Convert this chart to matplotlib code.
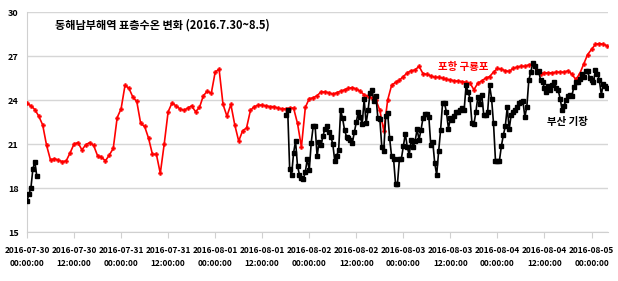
import numpy as np
import matplotlib
matplotlib.use("Agg")
import matplotlib.pyplot as plt

plt.rcParams['font.family'] = ['Noto Sans CJK KR', 'DejaVu Sans']

# 포항 구룡포 (시간별, 2016-07-30 00:00 부터)
red_vals = [
    23.77, 23.6, 23.35, 22.9, 22.3, 20.9, 19.9, 20.0, 19.9, 19.8,
    19.85, 20.4, 21.0, 21.1, 20.6, 20.95, 21.1, 20.9, 20.2, 20.1,
    19.85, 20.25, 20.7, 22.8, 23.4, 25.0, 24.8, 24.2, 23.9, 22.4,
    22.2, 21.4, 20.3, 20.3, 19.0, 21.0, 23.2, 23.8, 23.6, 23.4,
    23.3, 23.45, 23.6, 23.2, 23.5, 24.3, 24.6, 24.45, 25.9, 26.1,
    23.7, 22.9, 23.7, 22.3, 21.2, 21.9, 22.1, 23.3, 23.55, 23.65,
    23.65, 23.6, 23.55, 23.55, 23.45, 23.4, 23.4, 23.45, 23.45, 22.4,
    20.8, 23.5, 24.1, 24.15, 24.3, 24.55, 24.55, 24.5, 24.4, 24.5,
    24.6, 24.7, 24.8, 24.85, 24.75, 24.6, 24.35, 24.25, 24.15, 24.0,
    23.3, 21.9, 24.0, 25.0, 25.2, 25.35, 25.6, 25.85, 26.0, 26.05,
    26.3, 25.8, 25.75, 25.65, 25.55, 25.55, 25.5, 25.4, 25.38, 25.3,
    25.3, 25.25, 25.2, 25.15, 24.7, 25.15, 25.3, 25.5, 25.6, 25.9,
    26.15, 26.1, 26.0, 25.95, 26.15, 26.25, 26.3, 26.3, 26.4, 26.45,
    26.0, 25.8, 25.85, 25.85, 25.85, 25.9, 25.9, 25.9, 26.0, 25.75,
    25.4, 25.8, 26.45, 27.1, 27.45, 27.8, 27.85, 27.8, 27.7,
]

# 부산 기장 (30분 간격)
black_early = [17.1, 17.6, 18.0, 19.3, 19.8, 18.8]  # 07-30 00:00 부터
black_late_start = 66  # 08-01 18:00
black_late = [
    23.0, 23.3, 19.3, 18.9, 20.4, 21.2, 19.5, 18.9, 18.65, 18.6,
    19.1, 20.0, 19.2, 21.1, 22.2, 22.2, 20.15, 21.15, 20.9, 21.55,
    22.05, 22.2, 21.8, 21.5, 21.0, 19.85, 20.2, 20.6, 23.3, 22.75,
    21.95, 21.5, 21.4, 21.3, 21.1, 21.8, 22.5, 23.2, 22.85, 22.35,
    24.05, 22.4, 23.3, 24.45, 24.7, 23.9, 24.3, 22.75, 22.7, 20.8,
    20.55, 22.9, 23.1, 21.4, 20.15, 20.0, 18.3, 18.3, 20.0, 20.0,
    20.85, 21.7, 20.8, 20.25, 21.3, 20.8, 21.2, 22.0, 21.3, 21.95,
    22.75, 23.05, 23.05, 22.85, 20.9, 21.15, 19.7, 18.9, 20.5, 21.95,
    23.8, 23.8, 23.15, 22.05, 22.75, 22.65, 22.9, 23.15, 23.2, 23.35,
    23.45, 23.3, 25.0, 24.55, 24.1, 22.4, 22.35, 23.2, 24.2, 23.75,
    24.35, 23.0, 23.0, 23.2, 25.0, 24.1, 22.4, 19.85, 19.85, 19.85,
    20.85, 21.6, 22.2, 23.5, 22.0, 23.0, 23.2, 23.3, 23.5, 23.8,
    23.85, 23.9, 22.85, 23.55, 25.35, 25.9, 26.5, 26.3, 25.9, 26.0,
    25.35, 25.25, 24.8, 24.55, 24.95, 24.7, 25.0, 25.2, 24.85, 24.65,
    24.1, 23.3, 23.6, 24.0, 24.25, 24.35, 24.3, 24.9, 25.2, 25.2,
    25.4, 25.8, 25.6, 25.95, 25.95, 25.5, 25.35, 25.25, 26.05, 25.8,
    25.35, 24.35, 25.1, 24.95, 24.85,
]

tick_hours = np.arange(0, 145, 12)
tick_labels = [
    "2016-07-30\n00:00:00", "2016-07-30\n12:00:00",
    "2016-07-31\n00:00:00", "2016-07-31\n12:00:00",
    "2016-08-01\n00:00:00", "2016-08-01\n12:00:00",
    "2016-08-02\n00:00:00", "2016-08-02\n12:00:00",
    "2016-08-03\n00:00:00", "2016-08-03\n12:00:00",
    "2016-08-04\n00:00:00", "2016-08-04\n12:00:00",
    "2016-08-05\n00:00:00",
]
y_ticks = [15, 18, 21, 24, 27, 30]

red_t = np.arange(len(red_vals))
# 검은 계열: 30분 격자에 결측 구간 포함
black_t = np.arange(0, black_late_start + 0.5 * len(black_late), 0.5)
black_y = np.full(len(black_t), np.nan)
black_y[:len(black_early)] = black_early
i0 = int(black_late_start * 2)
black_y[i0:i0 + len(black_late)] = black_late

fig = plt.figure(figsize=(6.18, 2.81), dpi=100)
ax = fig.add_axes([27 / 618, 1 - 232 / 281, 581 / 618, 220 / 281])

ax.plot(red_t, red_vals, color='#ff0000', lw=1.2, marker='P', ms=3.0,
        mec='#ff0000', mfc='#ff0000', mew=0.3, zorder=3)
ax.plot(black_t, black_y, color='black', lw=1.2, marker='s', ms=3.4,
        zorder=4)

ax.set_xlim(0, 148.2)
ax.set_ylim(15, 30)
ax.set_yticks(y_ticks)
ax.set_xticks(tick_hours)
ax.set_xticklabels(tick_labels, fontsize=6.0, fontweight='bold',
                   linespacing=1.6)
ax.tick_params(axis='y', labelsize=6.5, length=0, pad=6)
for lab in ax.get_yticklabels():
    lab.set_fontweight('bold')
ax.tick_params(axis='x', length=4, color='#d0d0d0', pad=6)
ax.grid(axis='y', color='#d6d6d6', lw=1)
ax.set_axisbelow(True)
for s in ['top', 'right']:
    ax.spines[s].set_visible(False)
for s in ['left', 'bottom']:
    ax.spines[s].set_color('#d0d0d0')

fig.text(55 / 618, 1 - 25 / 281, "동해남부해역 표층수온 변화 (2016.7.30~8.5)",
         fontsize=8, fontweight='bold', va='center', ha='left')
ax.text(111.3, 26.25, "포항 구룡포", color='#ff0000', fontsize=7.5,
        fontweight='bold', ha='center', va='center')
ax.text(137.8, 22.5, "부산 기장", color='black', fontsize=7.5,
        fontweight='bold', ha='center', va='center')

fig.savefig("out.png", dpi=100)
